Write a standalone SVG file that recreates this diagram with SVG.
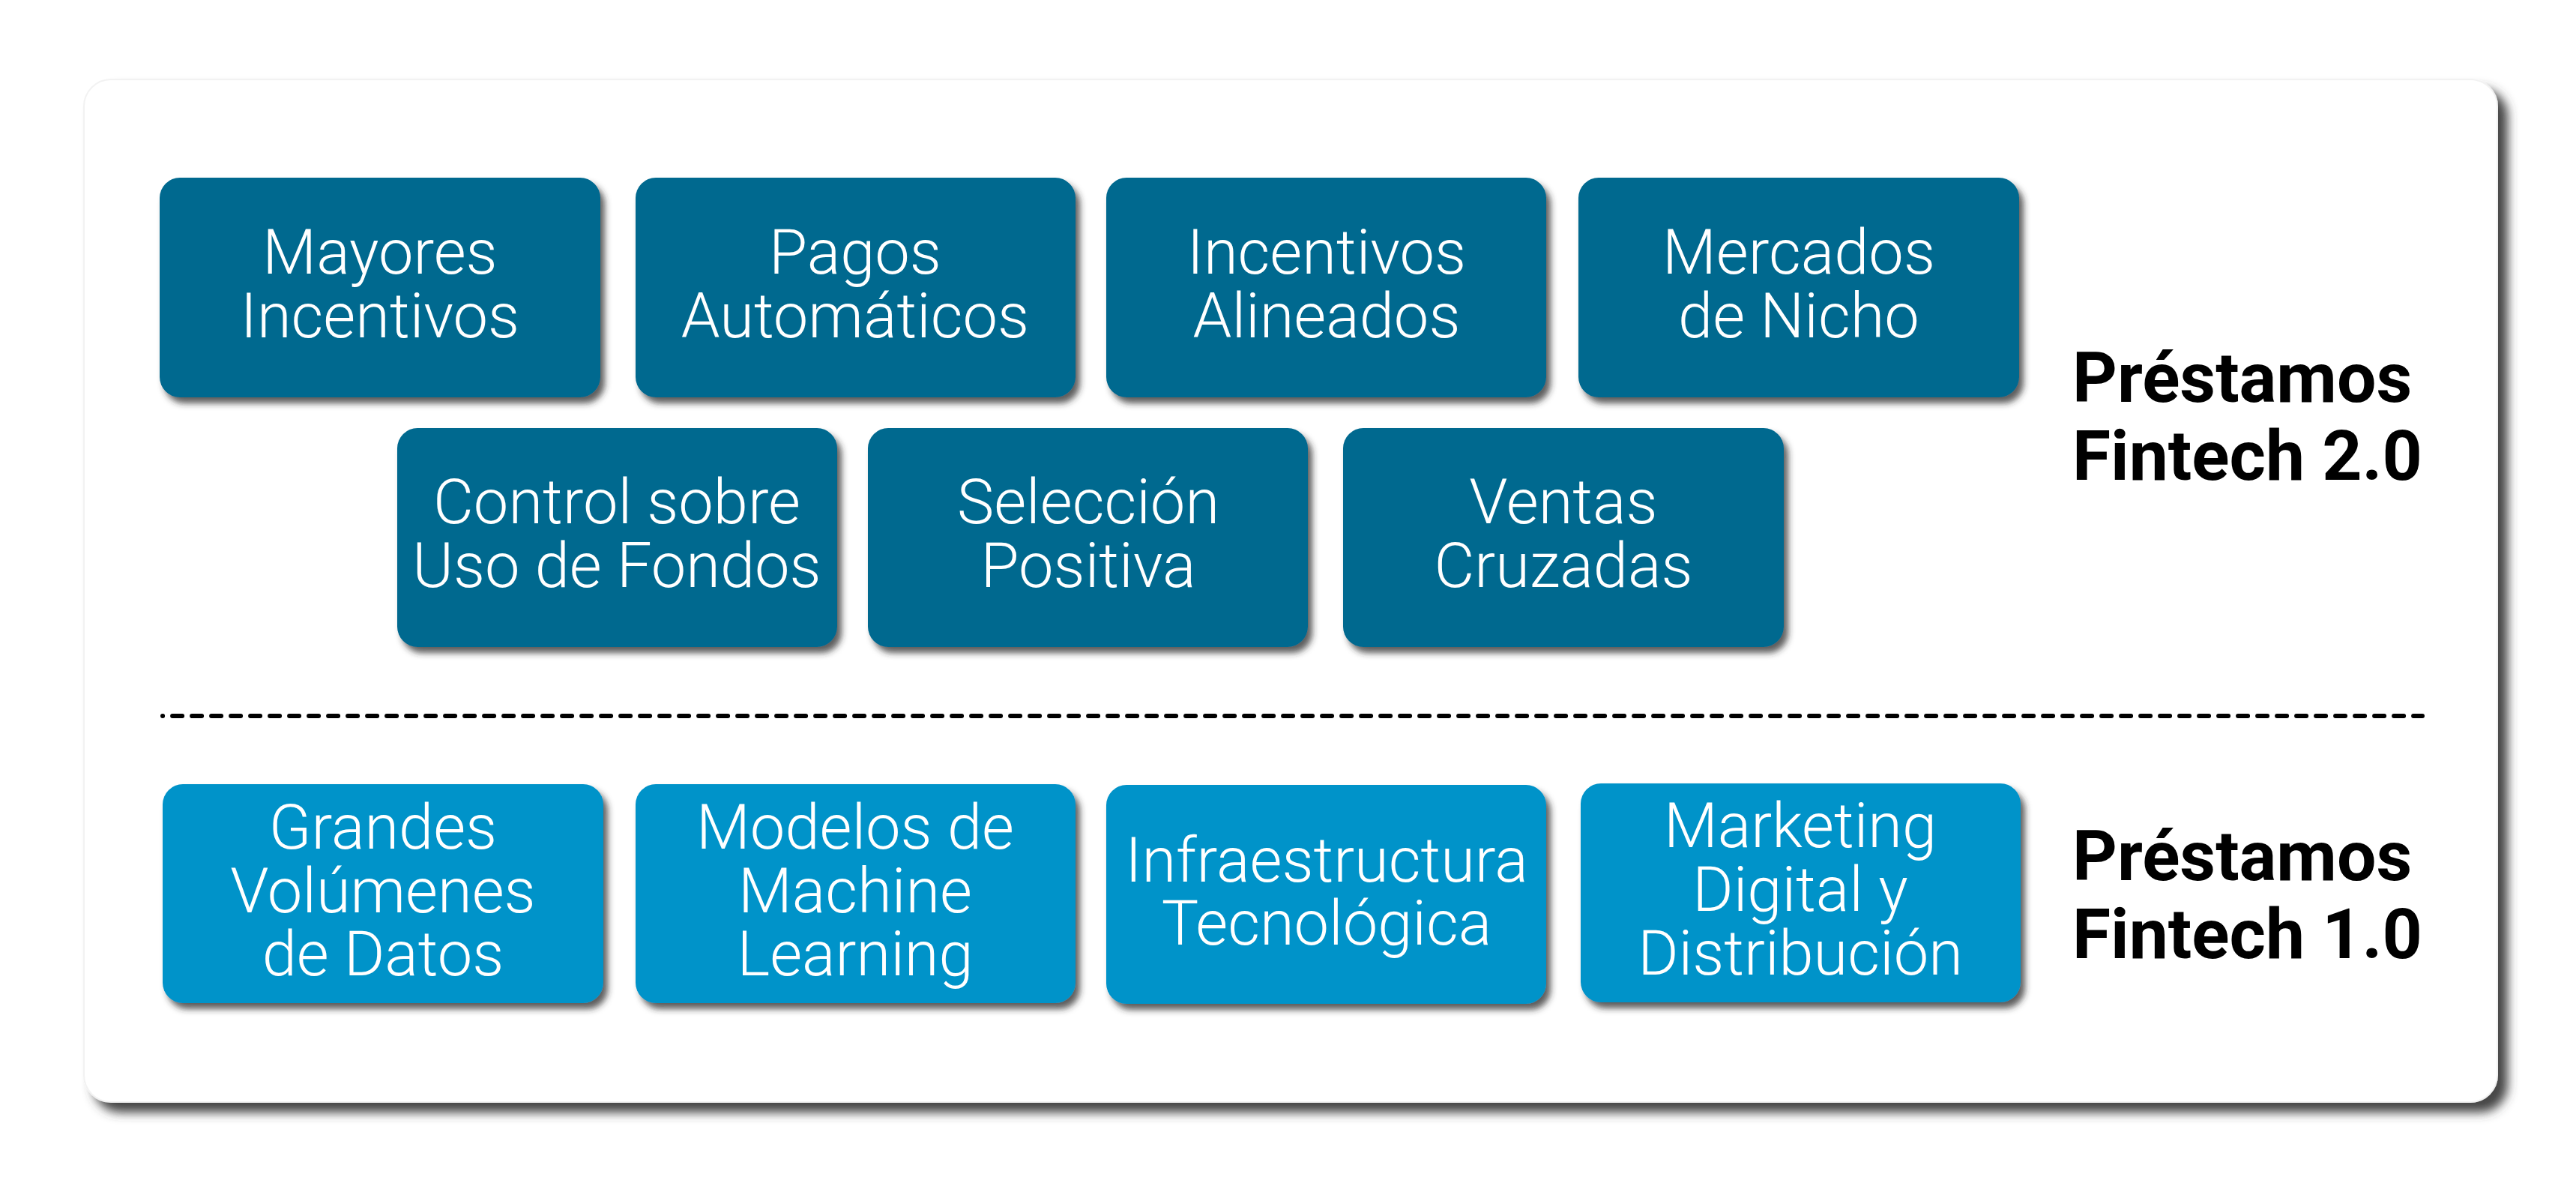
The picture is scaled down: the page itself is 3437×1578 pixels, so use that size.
<svg xmlns="http://www.w3.org/2000/svg" width="3437" height="1578" viewBox="0 0 3437 1578">
<style>
.n2{fill:#02698F}
.n1{fill:#0193C9}
.nt{font-family:Roboto,"Liberation Sans",sans-serif;font-weight:300;font-size:83px;fill:#ffffff;text-anchor:middle}
.lb{font-family:Roboto,"Liberation Sans",sans-serif;font-weight:700;font-size:93px;fill:#000000}
</style>
<defs>
<filter id="cardShadow" x="-5%" y="-5%" width="112%" height="115%">
<feGaussianBlur in="SourceAlpha" stdDeviation="7"/>
<feOffset dx="13" dy="13" result="b"/>
<feFlood flood-color="#3c3c3c" flood-opacity="0.95"/>
<feComposite in2="b" operator="in"/>
<feMerge><feMergeNode/><feMergeNode in="SourceGraphic"/></feMerge>
</filter>
<filter id="nodeShadow" x="-5%" y="-5%" width="115%" height="120%">
<feGaussianBlur in="SourceAlpha" stdDeviation="4"/>
<feOffset dx="6" dy="8" result="b"/>
<feFlood flood-color="#2a2a2a" flood-opacity="0.75"/>
<feComposite in2="b" operator="in"/>
<feMerge><feMergeNode/><feMergeNode in="SourceGraphic"/></feMerge>
</filter>
</defs>
<rect width="3437" height="1578" fill="#ffffff"/>
<rect id="card" x="112" y="106" width="3220" height="1364" rx="36" fill="#ffffff" stroke="#f2f2f2" stroke-width="2" filter="url(#cardShadow)"/>

<g id="connectors">
<line x1="217" y1="955" x2="3232" y2="955" stroke="#000" stroke-width="6" stroke-linecap="round" stroke-dasharray="13 13" stroke-dashoffset="12.9"/>
</g>

<g id="n-mayores"><rect class="n2" x="213" y="237" width="588" height="293" rx="27" filter="url(#nodeShadow)"/>
<text class="nt" x="507" y="365">Mayores</text><text class="nt" x="507" y="450">Incentivos</text></g>
<g id="n-pagos"><rect class="n2" x="848" y="237" width="587" height="293" rx="27" filter="url(#nodeShadow)"/>
<text class="nt" x="1141" y="365">Pagos</text><text class="nt" x="1141" y="450">Automáticos</text></g>
<g id="n-incentivos"><rect class="n2" x="1476" y="237" width="587" height="293" rx="27" filter="url(#nodeShadow)"/>
<text class="nt" x="1770" y="365">Incentivos</text><text class="nt" x="1770" y="450">Alineados</text></g>
<g id="n-mercados"><rect class="n2" x="2106" y="237" width="588" height="293" rx="27" filter="url(#nodeShadow)"/>
<text class="nt" x="2400" y="365">Mercados</text><text class="nt" x="2400" y="450">de Nicho</text></g>

<g id="n-control"><rect class="n2" x="530" y="571" width="587" height="292" rx="27" filter="url(#nodeShadow)"/>
<text class="nt" x="823" y="698">Control sobre</text><text class="nt" x="823" y="783">Uso de Fondos</text></g>
<g id="n-seleccion"><rect class="n2" x="1158" y="571" width="587" height="292" rx="27" filter="url(#nodeShadow)"/>
<text class="nt" x="1452" y="698">Selección</text><text class="nt" x="1452" y="783">Positiva</text></g>
<g id="n-ventas"><rect class="n2" x="1792" y="571" width="588" height="292" rx="27" filter="url(#nodeShadow)"/>
<text class="nt" x="2086" y="698">Ventas</text><text class="nt" x="2086" y="783">Cruzadas</text></g>

<g id="n-grandes"><rect class="n1" x="217" y="1046" width="588" height="292" rx="27" filter="url(#nodeShadow)"/>
<text class="nt" x="511" y="1132">Grandes</text><text class="nt" x="511" y="1217">Volúmenes</text><text class="nt" x="511" y="1301">de Datos</text></g>
<g id="n-modelos"><rect class="n1" x="848" y="1046" width="587" height="292" rx="27" filter="url(#nodeShadow)"/>
<text class="nt" x="1141" y="1132">Modelos de</text><text class="nt" x="1141" y="1217">Machine</text><text class="nt" x="1141" y="1301">Learning</text></g>
<g id="n-infra"><rect class="n1" x="1476" y="1047" width="587" height="292" rx="27" filter="url(#nodeShadow)"/>
<text class="nt" x="1770" y="1176">Infraestructura</text><text class="nt" x="1770" y="1260">Tecnológica</text></g>
<g id="n-marketing"><rect class="n1" x="2109" y="1045" width="587" height="292" rx="27" filter="url(#nodeShadow)"/>
<text class="nt" x="2402" y="1130">Marketing</text><text class="nt" x="2402" y="1215">Digital y</text><text class="nt" x="2402" y="1300">Distribución</text></g>

<g id="label-2">
<text class="lb" x="2765" y="536">Préstamos</text><text class="lb" x="2765" y="640">Fintech 2.0</text></g>
<g id="label-1">
<text class="lb" x="2765" y="1174">Préstamos</text><text class="lb" x="2765" y="1278">Fintech 1.0</text></g>
</svg>
